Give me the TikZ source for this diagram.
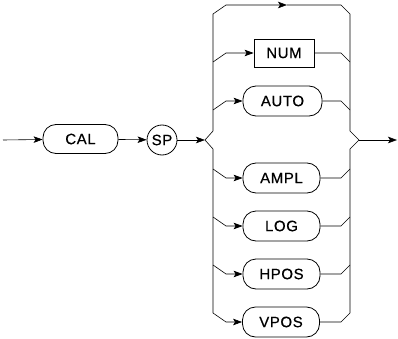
\documentclass[tikz,border=0pt]{standalone}
\usepackage{fontspec}
\setmainfont{Liberation Sans}
\newfontfamily\kwfont{Liberation Sans}[FakeBold=0.6,LetterSpace=4]
\usetikzlibrary{arrows.meta}

\tikzset{
  kw/.style={draw,line width=0.8pt,rounded corners=13pt,minimum width=77pt,
    minimum height=30pt,inner sep=0pt,font=\kwfont\fontsize{15}{17}\selectfont},
  numbox/.style={draw,line width=0.8pt,minimum width=60pt,minimum height=28pt,
    inner sep=0pt,font=\kwfont\fontsize{15}{17}\selectfont},
  spnode/.style={draw,line width=0.8pt,circle,minimum size=30pt,inner sep=0pt,
    font=\kwfont\fontsize{15}{17}\selectfont},
  flow/.style={line width=0.6pt},
  tip/.style={-{Stealth[length=9pt,width=6.5pt,inset=2pt]}}
}

\begin{document}
\begin{tikzpicture}[x=1pt,y=-1pt]
  \useasboundingbox (0,0) rectangle (398,339);
  % main line
  \coordinate (in) at (3,140);
  \node[kw,minimum width=75pt,minimum height=29pt] (cal) at (80.5,139) {CAL};
  \node[spnode] (sp) at (162,140) {SP};
  \coordinate (split) at (205,140);
  \coordinate (join) at (359,140);
  \coordinate (out) at (397,140);
  \coordinate (top) at (287,5);
  % choices
  \node[numbox] (num) at (284,53) {NUM};
  \node[kw,minimum width=79pt] (auto) at (282.5,101) {AUTO};
  \node[kw] (ampl) at (281.5,178) {AMPL};
  \node[kw] (log) at (281.5,226) {LOG};
  \node[kw] (hpos) at (281.5,274) {HPOS};
  \node[kw] (vpos) at (281,322) {VPOS};

  \draw[flow,tip] (in) -- (cal);
  \draw[flow,tip] (cal) -- (sp);
  \draw[flow,tip] (sp) -- (split);
  \draw[flow,tip] (join) -- (out);

  % outer loop over the top and the last choice
  \draw[flow,tip] (split) -- (213,131) -- (213,14) -- (226,5) -- (top);
  \draw[flow] (top) -- (341,5) -- (350,14) -- (350,131) -- (join);
  \draw[flow,tip] (split) -- (213,149) -- (213,313) -- (226,322) -- (vpos);
  \draw[flow] (vpos) -- (341,322) -- (350,313) -- (350,149) -- (join);

  % upper branches
  \draw[flow,tip] (213,62) -- (226,53) -- (num);
  \draw[flow] (num) -- (341,53) -- (350,62);
  \draw[flow,tip] (213,110) -- (226,101) -- (auto);
  \draw[flow] (auto) -- (341,101) -- (350,110);

  % lower branches
  \draw[flow,tip] (213,169) -- (226,178) -- (ampl);
  \draw[flow] (ampl) -- (341,178) -- (350,169);
  \draw[flow,tip] (213,217) -- (226,226) -- (log);
  \draw[flow] (log) -- (341,226) -- (350,217);
  \draw[flow,tip] (213,265) -- (226,274) -- (hpos);
  \draw[flow] (hpos) -- (341,274) -- (350,265);
\end{tikzpicture}
\end{document}
